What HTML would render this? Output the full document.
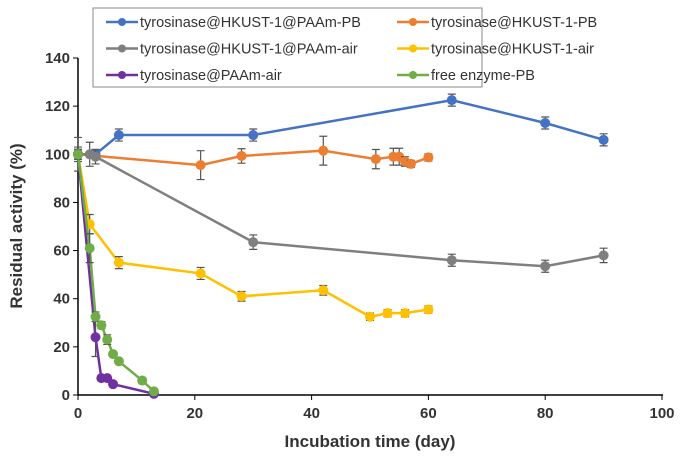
<!DOCTYPE html>
<html><head><meta charset="utf-8"><style>
body{margin:0;background:#fff;}
svg{display:block;font-family:"Liberation Sans",Arial,sans-serif;}
</style></head><body>
<svg id="chart" width="685" height="463" viewBox="0 0 685 463" xmlns="http://www.w3.org/2000/svg">
<g id="axes"></g>
<g id="series"></g>
<g id="legend"></g>
<text x="22" y="226" transform="rotate(-90 22 226)" text-anchor="middle" font-size="17" font-weight="bold" fill="#333">Residual activity (%)</text>
<text x="370" y="447" text-anchor="middle" font-size="17" font-weight="bold" fill="#333">Incubation time (day)</text>
</svg>
<script>
const xTicks=[0,20,40,60,80,100];
const yTicks=[0,20,40,60,80,100,120,140];
const seriesNames=["tyrosinase@HKUST-1@PAAm-PB","tyrosinase@HKUST-1-PB","tyrosinase@HKUST-1@PAAm-air","tyrosinase@HKUST-1-air","tyrosinase@PAAm-air","free enzyme-PB"];
const seriesColors=["#4472C4","#ED7D31","#7F7F7F","#FFC000","#7030A0","#70AD47"];
const days0=[0,3,7,30,64,80,90];
const vals0=[100,100,108,108,122.5,113,106];
const err0=[2,2,2.5,2.5,2.5,2.5,2.5];
const days1=[0,21,28,42,51,54,55,56,57,60];
const vals1=[100,95.5,99.3,101.5,98,99,99,97,96,98.7];
const err1=[2,6,3,6,4,3.5,3.5,2,1.5,1.5];
const days2=[0,2,3,30,64,80,90];
const vals2=[100,100,99,63.5,56,53.5,58];
const err2=[7,5,3,3,2.5,2.5,3];
const days3=[0,2,7,21,28,42,50,53,56,60];
const vals3=[100,71,55,50.5,41,43.5,32.5,34,34,35.5];
const err3=[3,4,2.5,2.5,2,2,1.5,1.5,1.5,1.5];
const days4=[0,3,4,5,6,13];
const vals4=[100,24,7,7,4.5,0.5];
const err4=[2,8,1,1,1,0.5];
const days5=[0,2,3,4,5,6,7,11,13];
const vals5=[100,61,32.5,29,23,17,14,6,1.5];
const err5=[2,6,2,1.5,2,1,1,1,1];
const allDays=[days0,days1,days2,days3,days4,days5];
const allVals=[vals0,vals1,vals2,vals3,vals4,vals5];
const allErr=[err0,err1,err2,err3,err4,err5];

const NS="http://www.w3.org/2000/svg";
const X0=78,X1=662,Y0=395,Y1=58;
const xs=d=>X0+(d-0)/(100-0)*(X1-X0);
const ys=v=>Y0-(v-0)/(140-0)*(Y0-Y1);
function mk(tag,attrs,parent){const e=document.createElementNS(NS,tag);for(const k in attrs)e.setAttribute(k,attrs[k]);parent.appendChild(e);return e;}
const axes=document.getElementById('axes');
let l=mk('line',{x1:X0,y1:Y0,x2:X1+1,y2:Y0,stroke:'#000','stroke-width':1.5},axes);


l=mk('line',{x1:X0,y1:Y0,x2:X0,y2:Y1,stroke:'#000','stroke-width':1.5},axes);


xTicks.forEach(t=>{
  const tk=mk('line',{x1:xs(t),y1:Y0,x2:xs(t),y2:Y0+5,stroke:'#000'},axes);
  
  
  const tx=mk('text',{x:xs(t),y:Y0+23,'text-anchor':'middle','font-size':15,'font-weight':'bold',fill:'#333'},axes);
  tx.textContent=t;
  
  
});
yTicks.forEach(t=>{
  const tk=mk('line',{x1:X0-5,y1:ys(t),x2:X0,y2:ys(t),stroke:'#000'},axes);
  
  
  const tx=mk('text',{x:X0-8,y:ys(t)+5,'text-anchor':'end','font-size':15,'font-weight':'bold',fill:'#333'},axes);
  tx.textContent=t;
  
  
});
const sg=document.getElementById('series');
allDays.forEach((days,i)=>{
  const g=mk('g',{},sg);
  
  
  const pts=days.map((d,j)=>xs(d)+','+ys(allVals[i][j])).join(' ');
  const pl=mk('polyline',{points:pts,fill:'none',stroke:seriesColors[i],'stroke-width':2.5},g);
  
  
  days.forEach((d,j)=>{
    const v=allVals[i][j],e=allErr[i][j],x=xs(d);
    const eb=mk('path',{d:`M${x},${ys(v+e)}V${ys(v-e)}M${x-4},${ys(v+e)}H${x+4}M${x-4},${ys(v-e)}H${x+4}`,stroke:'#555','stroke-width':1.2,fill:'none'},g);
    
    
    const c=mk('circle',{cx:x,cy:ys(v),r:5,fill:seriesColors[i]},g);
    
    
  });
});
const lg=document.getElementById('legend');
const box=mk('rect',{x:93,y:8,width:389,height:79,fill:'#fff',stroke:'#888','stroke-width':1},lg);


seriesNames.forEach((n,i)=>{
  const col=i%2,row=Math.floor(i/2);
  const lx=col?397:106, ly=22+row*26.5;
  const g=mk('g',{},lg);
  
  
  mk('line',{x1:lx,y1:ly,x2:lx+32,y2:ly,stroke:seriesColors[i],'stroke-width':2.5},g);
  mk('circle',{cx:lx+16,cy:ly,r:4,fill:seriesColors[i]},g);
  const t=mk('text',{x:lx+34,y:ly+5,'font-size':14.5,fill:'#333'},g);
  t.textContent=n;
});
</script>
</body></html>
